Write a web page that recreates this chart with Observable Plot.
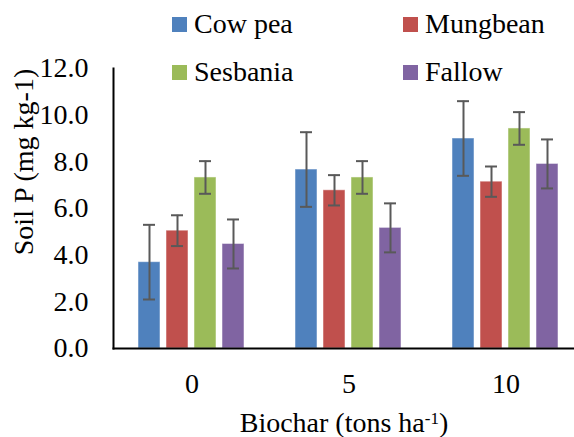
<!DOCTYPE html>
<html><head><meta charset="utf-8">
<script src="https://cdn.jsdelivr.net/npm/d3@7"></script>
<script src="https://cdn.jsdelivr.net/npm/@observablehq/plot@0.6"></script>
<style>
html,body{margin:0;padding:0;background:#fff;}
#wrap{position:relative;width:574px;height:437px;font-family:"Liberation Serif","Times New Roman",serif;color:#000;overflow:hidden;}
#chart{position:absolute;left:0;top:0;}
#legend{position:absolute;left:172px;top:0;display:grid;grid-template-columns:231px 170px;}
.item{display:flex;align-items:center;height:48px;font-size:28px;line-height:48px;white-space:nowrap;}
.sw{width:15px;height:15px;margin-right:7px;flex:none;}
#ytitle{position:absolute;left:23.6px;top:162px;transform:translate(-50%,-50%) rotate(-90deg);font-size:28px;line-height:28px;white-space:nowrap;}
#xtitle{position:absolute;left:344px;top:408.6px;transform:translateX(-50%);font-size:28px;line-height:28px;white-space:nowrap;}
#xtitle sup{font-size:17px;line-height:0;vertical-align:8px;}
</style>
</head><body>
<div id="wrap"><div id="chart"></div><div id="legend"></div>
<div id="ytitle">Soil P (mg kg-1)</div>
<div id="xtitle">Biochar (tons ha<sup>-1</sup>)</div>
</div>
<script>
const groups = ["0", "5", "10"];
const series = ["Cow pea", "Mungbean", "Sesbania", "Fallow"];
const colors = ["#4F81BD", "#C0504D", "#9BBB59", "#8064A2"];
const cowpea = [3.70, 7.67, 9.00];
const cowpeaErr = [1.60, 1.60, 1.60];
const mungbean = [5.05, 6.78, 7.15];
const mungbeanErr = [0.66, 0.65, 0.65];
const sesbania = [7.33, 7.33, 9.43];
const sesbaniaErr = [0.70, 0.70, 0.70];
const fallow = [4.48, 5.17, 7.91];
const fallowErr = [1.05, 1.05, 1.05];
const yTicks = [0, 2, 4, 6, 8, 10, 12];

const values = [cowpea, mungbean, sesbania, fallow];
const errors = [cowpeaErr, mungbeanErr, sesbaniaErr, fallowErr];
const data = [];
series.forEach((s, si) => groups.forEach((g, gi) =>
  data.push({group: g, series: s, value: values[si][gi], err: errors[si][gi]})));

const plot = Plot.plot({
  width: 574, height: 437,
  marginLeft: 112, marginRight: -10, marginTop: 68, marginBottom: 89,
  style: {fontFamily: "Liberation Serif", fontSize: "28px", color: "#000", background: "transparent"},
  fx: {domain: groups, padding: 0, label: null, tickSize: 0, tickPadding: 25},
  x: {domain: series, paddingInner: 0.2105, paddingOuter: 0.86, axis: null},
  y: {domain: [0, 12], ticks: yTicks, tickFormat: d => d.toFixed(1), tickSize: 0, tickPadding: 25, label: null},
  color: {domain: series, range: colors},
  marks: [
    Plot.barY(data, {fx: "group", x: "series", y: "value", fill: "series", stroke: "#fff", strokeOpacity: 0.5, strokeWidth: 1}),
    Plot.ruleX(data, {fx: "group", x: "series", y1: d => d.value - d.err, y2: d => d.value + d.err, stroke: "#595959", strokeWidth: 2}),
    Plot.tickY(data, {fx: "group", x: "series", y: d => d.value + d.err, stroke: "#595959", strokeWidth: 2, insetLeft: 5, insetRight: 5}),
    Plot.tickY(data, {fx: "group", x: "series", y: d => d.value - d.err, stroke: "#595959", strokeWidth: 2, insetLeft: 5, insetRight: 5}),
    Plot.frame({anchor: "left", facet: "super", stroke: "#000", strokeWidth: 2}),
    Plot.frame({anchor: "bottom", facet: "super", stroke: "#000", strokeWidth: 2})
  ]
});
document.getElementById("chart").appendChild(plot);

const legend = document.getElementById("legend");
series.forEach((s, i) => {
  const it = document.createElement("div");
  it.className = "item";
  const sw = document.createElement("span");
  sw.className = "sw";
  sw.style.background = colors[i];
  it.appendChild(sw);
  it.appendChild(document.createTextNode(s));
  legend.appendChild(it);
});
</script>
</body></html>
